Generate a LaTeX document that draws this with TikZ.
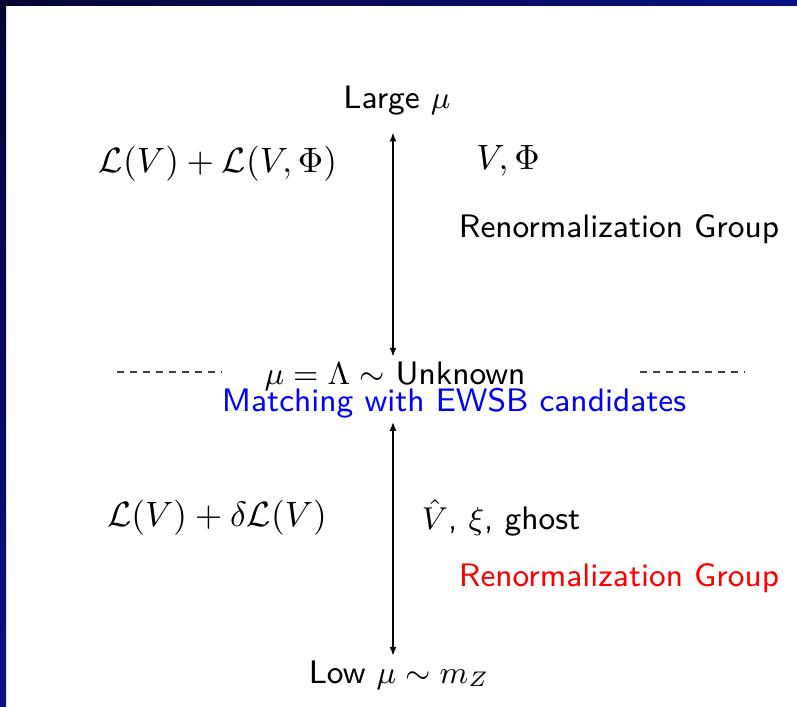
\documentclass[tikz,border=0pt]{standalone}
\usepackage{amsmath,amssymb}
\usetikzlibrary{arrows.meta,positioning,calc}
\definecolor{FrameDark}{HTML}{050532}
\definecolor{FrameBlue}{HTML}{0A1286}
\definecolor{MatchBlue}{HTML}{0000FF}
\definecolor{RGRed}{HTML}{FF0000}

\begin{document}
\begin{tikzpicture}[x=0.01cm,y=-0.01cm,
    lbl/.style={font=\sffamily\fontsize{9.25}{11}\selectfont,inner sep=0pt},
    mth/.style={lbl,font=\sffamily\fontsize{9.7}{11}\selectfont},
    arr/.style={{Latex[length=2.6pt,width=2pt]}-{Latex[length=2.6pt,width=2pt]},line width=0.55pt},
    cut/.style={dash pattern=on 2pt off 1.7pt,line width=0.35pt,black!75}
  ]
  \useasboundingbox (0,0) rectangle (797,707);
  % frame of the slide
  \shade[left color=FrameDark,right color=FrameBlue] (0,0) rectangle (797,6);
  \shade[top color=FrameDark,bottom color=FrameBlue] (0,0) rectangle (6,707);

  % scales
  \node[lbl] (large) at (397,101) {Large $\mu$};
  \node[lbl] (cut) at (395,376) {$\mu=\Lambda\sim$ Unknown};
  \node[lbl,text=MatchBlue] (match) at (454,403) {Matching with EWSB candidates};
  \node[lbl] (low) at (399,675) {Low $\mu\sim m_Z$};

  % above the cut
  \node[mth] (lagfull) at (218,164) {$\mathcal{L}(V)+\mathcal{L}(V,\Phi)$};
  \node[mth] (fieldsup) at (508,161) {$V,\Phi$};
  \node[lbl] (rgup) at (619,229) {Renormalization Group};

  % below the cut
  \node[mth] (lageff) at (217,518) {$\mathcal{L}(V)+\delta\mathcal{L}(V)$};
  \node[lbl] (fieldslow) at (501,518) {$\hat{V}$, $\xi$, ghost};
  \node[lbl,text=RGRed] (rglow) at (619,578) {Renormalization Group};

  \coordinate (axis) at (393,0);
  \draw[arr] ($(large.south -| axis)+(0,16)$) -- ($(cut.north -| axis)+(0,-4)$);
  \draw[arr] ($(match.south -| axis)+(0,3)$) -- ($(low.north -| axis)+(0,-4)$);

  % dashed cut line
  \coordinate (dla) at (117,372);
  \coordinate (dlb) at (222,372);
  \coordinate (dra) at (640,372);
  \coordinate (drb) at (745,372);
  \draw[cut] (dla) -- (dlb);
  \draw[cut] (dra) -- (drb);
\end{tikzpicture}
\end{document}
